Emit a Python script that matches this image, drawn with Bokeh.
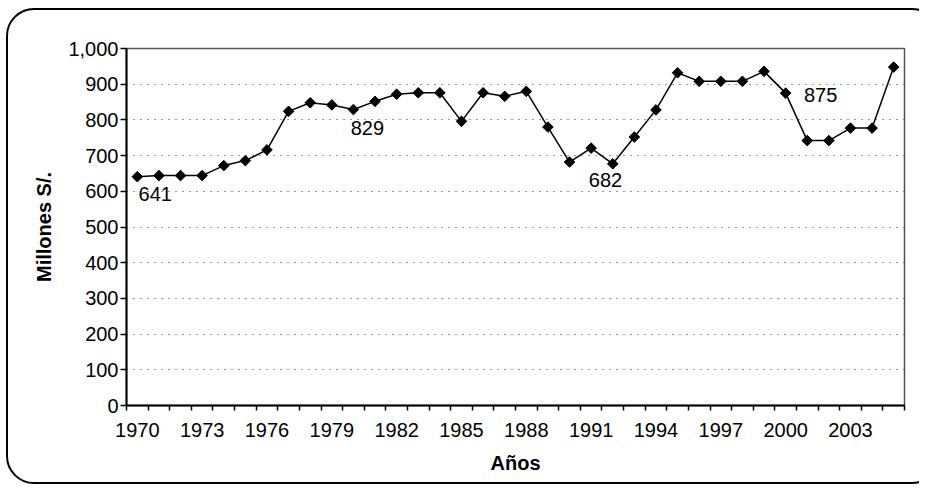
import numpy as np
from bokeh.plotting import figure
from bokeh.models import (ColumnDataSource, FixedTicker, NumeralTickFormatter,
                          Range1d, InlineStyleSheet)
from bokeh.embed import file_html
from bokeh.resources import INLINE
from bokeh.core.properties import value

# ---- data ----
years = list(range(1970, 2006))
values = [641, 644, 644, 644, 672, 686, 716, 824, 848, 842, 829, 852, 872, 876,
          876, 796, 876, 866, 880, 780, 682, 721, 677, 752, 828, 932, 908, 908,
          908, 936, 875, 742, 742, 777, 777, 948]
label_years = [1970, 1980, 1990, 2000]
label_texts = ["641", "829", "682", "875"]
x_tick_years = list(range(1970, 2004, 3))
y_ticks = list(range(0, 1001, 100))

# ---- styles ----
FONT = "Liberation Sans"
label_dx = [18, 14, 36, 35]
label_dy = [17, 18, 18, 2]

border_css = InlineStyleSheet(css="""
:host { position: relative; overflow: hidden; }
:host::after {
  content: ""; position: absolute; left: 6px; top: 8px;
  width: 930px; height: 472px;
  border: 2px solid black; border-radius: 28px;
  pointer-events: none; z-index: 10;
}
""")

p = figure(width=919, height=485, output_backend="svg", toolbar_location=None,
           x_range=Range1d(years[0] - 0.5, years[-1] + 0.5),
           y_range=Range1d(0, 1000),
           min_border_left=126, min_border_right=15, min_border_top=48,
           min_border_bottom=80, stylesheets=[border_css])
p.background_fill_color = "white"
p.border_fill_color = "white"
p.outline_line_color = "#555555"
p.outline_line_width = 1.5

# grid
p.xgrid.grid_line_color = None
p.ygrid.grid_line_color = "#333333"
p.ygrid.grid_line_dash = "1 6"
p.ygrid.grid_line_width = 1
p.ygrid.ticker = FixedTicker(ticks=y_ticks)

# x axis
xa = p.xaxis[0]
xa.ticker = FixedTicker(ticks=x_tick_years,
                        minor_ticks=[y - 0.5 for y in years] + [years[-1] + 0.5])
xa.major_tick_out = 0
xa.major_tick_in = 0
xa.minor_tick_out = 5
xa.minor_tick_in = 0
xa.minor_tick_line_color = "black"
xa.minor_tick_line_width = 1.5
xa.axis_line_color = "black"
xa.axis_line_width = 2
xa.major_label_standoff = 12
xa.major_label_text_font = FONT
xa.major_label_text_font_size = "20px"
xa.major_label_text_color = "black"
xa.axis_label = "Años"
xa.axis_label_text_font = FONT
xa.axis_label_text_font_style = "bold"
xa.axis_label_text_font_size = "20px"
xa.axis_label_text_color = "black"
xa.axis_label_standoff = 12

# y axis
ya = p.yaxis[0]
ya.ticker = FixedTicker(ticks=y_ticks, minor_ticks=[])
ya.formatter = NumeralTickFormatter(format="0,0")
ya.major_tick_out = 6
ya.major_tick_in = 0
ya.major_tick_line_color = "black"
ya.major_tick_line_width = 1.5
ya.axis_line_color = "black"
ya.axis_line_width = 2
ya.major_label_standoff = 2
ya.major_label_text_font = FONT
ya.major_label_text_font_size = "20px"
ya.major_label_text_color = "black"
ya.axis_label = "Millones S/."
ya.axis_label_text_font = FONT
ya.axis_label_text_font_style = "bold"
ya.axis_label_text_font_size = "20px"
ya.axis_label_text_color = "black"
ya.axis_label_standoff = 10

src = ColumnDataSource(dict(x=years, y=values))
p.line("x", "y", source=src, line_color="black", line_width=1.5)
p.scatter("x", "y", source=src, marker="square", angle=np.pi / 4, size=7.5,
          fill_color="black", line_color="black")

lab_vals = [values[years.index(y)] for y in label_years]
lsrc = ColumnDataSource(dict(x=label_years, y=lab_vals, t=label_texts,
                             dx=label_dx, dy=label_dy))
p.text("x", "y", text="t", source=lsrc, x_offset="dx", y_offset="dy",
       text_align="center", text_baseline="middle",
       text_font=value(FONT), text_font_size="20px", text_color="black")

open("out.html", "w").write(file_html(p, INLINE))
